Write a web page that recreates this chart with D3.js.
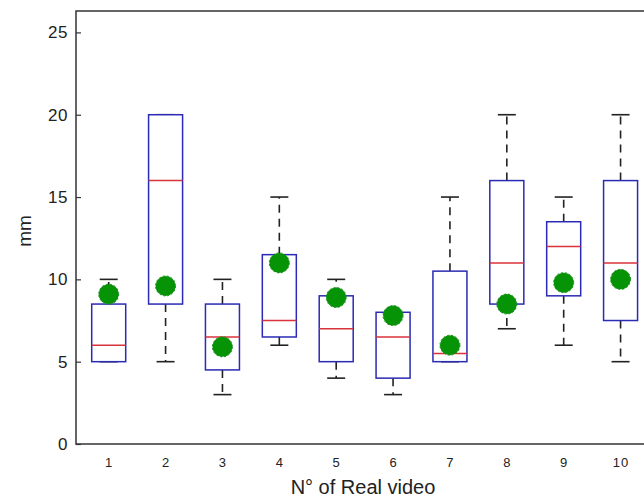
<!DOCTYPE html>
<html>
<head>
<meta charset="utf-8">
<script src="https://cdn.jsdelivr.net/npm/d3@7"></script>
<style>
  body { margin: 0; background: #fff; }
  svg { display: block; font-family: "Liberation Sans", Arial, sans-serif; }
</style>
</head>
<body>
<div id="container"></div>
<script>
// box statistics per video
const videos  = [1, 2, 3, 4, 5, 6, 7, 8, 9, 10];
const whiskLo = [5, 5, 3, 6, 4, 3, 5, 7, 6, 5];
const q1      = [5, 8.5, 4.5, 6.5, 5, 4, 5, 8.5, 9, 7.5];
const median  = [6, 16, 6.5, 7.5, 7, 6.5, 5.5, 11, 12, 11];
const q3      = [8.5, 20, 8.5, 11.5, 9, 8, 10.5, 16, 13.5, 16];
const whiskHi = [10, 20, 10, 15, 10, 8, 15, 20, 15, 20];
const real    = [9.1, 9.6, 5.9, 11, 8.9, 7.8, 6, 8.5, 9.8, 10];
const yTicks  = [0, 5, 10, 15, 20, 25];

const width = 644;
const height = 501;
const plotLeft = 76, plotTop = 11, plotBottom = 444, plotRight = 649;

const data = videos.map((v, i) => ({
    v: v, lo: whiskLo[i], q1: q1[i], med: median[i], q3: q3[i], hi: whiskHi[i], real: real[i]
}));

const x = d3.scaleLinear().domain([0.425, 10.5]).range([plotLeft, plotRight]);
const y = d3.scaleLinear().domain([0, 26.3]).range([plotBottom, plotTop]);

const boxW = 34;
const capW = 18;

let svg = d3.select('#container').append('svg')
    .attr('width', width)
    .attr('height', height);

// frame
svg.append('rect')
    .attr('x', plotLeft).attr('y', plotTop)
    .attr('width', plotRight - plotLeft).attr('height', plotBottom - plotTop)
    .attr('fill', 'none')
    .attr('stroke', '#333')
    .attr('stroke-width', 1.5);

// y axis
let yAxis = svg.append('g')
    .attr('transform', `translate(${plotLeft},0)`)
    .call(d3.axisRight(y).tickValues(yTicks).tickSize(5).tickFormat(d3.format('d')));
yAxis.select('.domain').remove();
yAxis.selectAll('line').attr('stroke', '#333').attr('stroke-width', 1.2);
yAxis.selectAll('text')
    .attr('x', -8)
    .attr('text-anchor', 'end')
    .attr('font-size', 17)
    .attr('letter-spacing', 0.5)
    .attr('fill', '#222');

// x axis labels only
let xAxis = svg.append('g')
    .attr('transform', `translate(0,${plotBottom})`)
    .call(d3.axisBottom(x).tickValues(videos).tickSize(0).tickPadding(14).tickFormat(d3.format('d')));
xAxis.select('.domain').remove();
xAxis.selectAll('text')
    .attr('font-size', 13)
    .attr('letter-spacing', 1)
    .attr('fill', '#222');

svg.append('text')
    .attr('x', 363).attr('y', 494)
    .attr('text-anchor', 'middle')
    .attr('font-size', 20)
    .attr('fill', '#222')
    .text('N° of Real video');

svg.append('text')
    .attr('transform', 'translate(31,231) rotate(-90)')
    .attr('text-anchor', 'middle')
    .attr('font-size', 19)
    .attr('fill', '#222')
    .text('mm');

let box = svg.append('g')
    .selectAll('g')
    .data(data)
    .join('g');

// whiskers
box.append('line')
    .attr('x1', d => x(d.v)).attr('x2', d => x(d.v))
    .attr('y1', d => y(d.q3)).attr('y2', d => y(d.hi))
    .attr('stroke', '#222').attr('stroke-width', 1.6)
    .attr('stroke-dasharray', '8,6');
box.append('line')
    .attr('x1', d => x(d.v)).attr('x2', d => x(d.v))
    .attr('y1', d => y(d.q1)).attr('y2', d => y(d.lo))
    .attr('stroke', '#222').attr('stroke-width', 1.6)
    .attr('stroke-dasharray', '8,6');
box.append('line')
    .attr('x1', d => x(d.v) - capW / 2).attr('x2', d => x(d.v) + capW / 2)
    .attr('y1', d => y(d.hi)).attr('y2', d => y(d.hi))
    .attr('stroke', '#222').attr('stroke-width', 1.6);
box.append('line')
    .attr('x1', d => x(d.v) - capW / 2).attr('x2', d => x(d.v) + capW / 2)
    .attr('y1', d => y(d.lo)).attr('y2', d => y(d.lo))
    .attr('stroke', '#222').attr('stroke-width', 1.6);

// boxes
box.append('rect')
    .attr('x', d => x(d.v) - boxW / 2)
    .attr('y', d => y(d.q3))
    .attr('width', boxW)
    .attr('height', d => y(d.q1) - y(d.q3))
    .attr('fill', '#fff')
    .attr('stroke', '#2a2ab4')
    .attr('stroke-width', 1.5);

box.append('line')
    .attr('x1', d => x(d.v) - boxW / 2).attr('x2', d => x(d.v) + boxW / 2)
    .attr('y1', d => y(d.med)).attr('y2', d => y(d.med))
    .attr('stroke', '#d8333a').attr('stroke-width', 1.5);

// real measurement dots
box.append('circle')
    .attr('cx', d => x(d.v))
    .attr('cy', d => y(d.real))
    .attr('r', 10)
    .attr('fill', '#069406')
    .attr('stroke', '#1a8a1a')
    .attr('stroke-width', 1)
    .attr('stroke-dasharray', '2,2');
</script>
</body>
</html>
